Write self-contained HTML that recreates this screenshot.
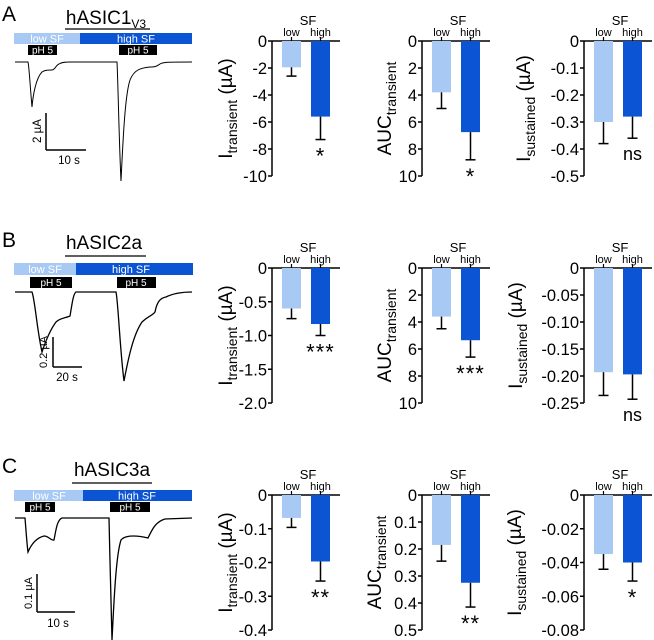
<!DOCTYPE html>
<html><head><meta charset="utf-8">
<style>
html,body{margin:0;padding:0;background:#fff;}
svg{display:block;font-family:"Liberation Sans","DejaVu Sans",sans-serif;}
</style></head>
<body>
<svg id="fig" width="654" height="640" viewBox="0 0 654 640">
<text x="2" y="21" font-size="21">A</text>
<text x="2" y="247" font-size="21">B</text>
<text x="2" y="473" font-size="21">C</text>

<g>
<text x="106" y="24" font-size="19" text-anchor="middle">hASIC1<tspan font-size="12" dy="4">V3</tspan></text>
<line x1="65" y1="29" x2="150" y2="29" stroke="#000" stroke-width="1.2"/>
<rect x="14" y="33" width="66" height="11" fill="#a9c9f5"/>
<rect x="80" y="33" width="112" height="11" fill="#0b55d4"/>
<text x="47" y="42.5" font-size="11" fill="#fff" text-anchor="middle">low SF</text>
<text x="136" y="42.5" font-size="11" fill="#fff" text-anchor="middle">high SF</text>
<rect x="28" y="45" width="29" height="10" fill="#000"/>
<rect x="119" y="45" width="38" height="10" fill="#000"/>
<text x="42.5" y="53.5" font-size="10" fill="#fff" text-anchor="middle">pH 5</text>
<text x="138" y="53.5" font-size="10" fill="#fff" text-anchor="middle">pH 5</text>
<path d="M15,62 L28,62 C29,65 30,85 32,107 C33,95 36,78 42,72 C45,70 48,70 52,70 C55,70 56,65 59,64 C62,62 66,62 70,62 L117,62 C118,80 119,140 121,181 C123,140 125,95 130,80 C134,70 140,68 150,67 C156,67 157,66 160,64 C163,62 168,62 192,62" fill="none" stroke="#000" stroke-width="1"/>
<line x1="46" y1="113" x2="46" y2="150" stroke="#000" stroke-width="1.5"/>
<line x1="46" y1="150" x2="86" y2="150" stroke="#000" stroke-width="1.5"/>
<text x="41" y="131" font-size="11.5" text-anchor="middle" transform="rotate(-90 41 131)">2 µA</text>
<text x="69" y="164" font-size="11.5" text-anchor="middle">10 s</text>
</g>

<g>
<text x="104" y="249" font-size="19" text-anchor="middle">hASIC2a</text>
<line x1="65" y1="256" x2="146" y2="256" stroke="#000" stroke-width="1.2"/>
<rect x="14" y="263" width="62" height="12" fill="#a9c9f5"/>
<rect x="76" y="263" width="117" height="12" fill="#0b55d4"/>
<text x="45" y="273" font-size="11" fill="#fff" text-anchor="middle">low SF</text>
<text x="131" y="273" font-size="11" fill="#fff" text-anchor="middle">high SF</text>
<rect x="30" y="277" width="42" height="11" fill="#000"/>
<rect x="117" y="277" width="39" height="11" fill="#000"/>
<text x="51" y="286" font-size="10" fill="#fff" text-anchor="middle">pH 5</text>
<text x="136" y="286" font-size="10" fill="#fff" text-anchor="middle">pH 5</text>
<path d="M15,292 L32,292 C35,300 37,330 42,352 C46,340 50,330 56,322 C60,318 66,318 70,316 C72,305 73,294 76,292 L116,292 C118,300 120,350 124,381 C128,360 133,335 142,322 C148,316 152,316 155,312 C157,302 160,298 166,297 C172,294 180,292 192,292" fill="none" stroke="#000" stroke-width="1.3"/>
<line x1="53" y1="337" x2="53" y2="367" stroke="#000" stroke-width="1.5"/>
<line x1="53" y1="367" x2="82" y2="367" stroke="#000" stroke-width="1.5"/>
<text x="47" y="352" font-size="11" text-anchor="middle" transform="rotate(-90 47 352)">0.2 µA</text>
<text x="67" y="381" font-size="11.5" text-anchor="middle">20 s</text>
</g>

<g>
<text x="112" y="476" font-size="19" text-anchor="middle">hASIC3a</text>
<line x1="72" y1="483" x2="152" y2="483" stroke="#000" stroke-width="1.2"/>
<rect x="14" y="490" width="69" height="11" fill="#a9c9f5"/>
<rect x="83" y="490" width="109" height="11" fill="#0b55d4"/>
<text x="49" y="499.5" font-size="11" fill="#fff" text-anchor="middle">low SF</text>
<text x="137" y="499.5" font-size="11" fill="#fff" text-anchor="middle">high SF</text>
<rect x="25" y="502" width="30" height="10" fill="#000"/>
<rect x="110" y="502" width="40" height="10" fill="#000"/>
<text x="40" y="510.5" font-size="10" fill="#fff" text-anchor="middle">pH 5</text>
<text x="130" y="510.5" font-size="10" fill="#fff" text-anchor="middle">pH 5</text>
<path d="M15,518 L25,518 C26,530 27,545 28,552 C31,545 36,538 44,536 C49,536 51,541 54,540 C56,530 57,520 62,518 L109,518 C110,560 111,610 112,640 C114,600 116,555 121,540 C126,534 140,536 148,538 C152,530 155,522 165,519 L192,518" fill="none" stroke="#000" stroke-width="1.3"/>
<line x1="37" y1="574" x2="37" y2="612" stroke="#000" stroke-width="1.5"/>
<line x1="37" y1="612" x2="75" y2="612" stroke="#000" stroke-width="1.5"/>
<text x="32" y="593" font-size="11" text-anchor="middle" transform="rotate(-90 32 593)">0.1 µA</text>
<text x="58" y="627" font-size="11.5" text-anchor="middle">10 s</text>
</g>
<g id="charts"></g>
</svg>
<script>
const categories = ['low', 'high'];
const a1Values = [-1.95, -5.6];   const a1Errors = [-2.6, -7.3];
const a2Values = [3.8, 6.75];     const a2Errors = [5.0, 8.8];
const a3Values = [-0.30, -0.28];  const a3Errors = [-0.38, -0.36];
const b1Values = [-0.60, -0.83];  const b1Errors = [-0.75, -1.0];
const b2Values = [3.6, 5.35];     const b2Errors = [4.5, 6.6];
const b3Values = [-0.193, -0.197];const b3Errors = [-0.236, -0.243];
const c1Values = [-0.068, -0.197];const c1Errors = [-0.096, -0.255];
const c2Values = [0.185, 0.325];  const c2Errors = [0.245, 0.415];
const c3Values = [-0.035, -0.040];const c3Errors = [-0.044, -0.051];
const a1Ticks = ['0','-2','-4','-6','-8','-10'];
const a2Ticks = ['0','2','4','6','8','10'];
const a3Ticks = ['0','-0.1','-0.2','-0.3','-0.4','-0.5'];
const b1Ticks = ['0','-0.5','-1.0','-1.5','-2.0'];
const b2Ticks = ['0','2','4','6','8','10'];
const b3Ticks = ['0','-0.05','-0.10','-0.15','-0.20','-0.25'];
const c1Ticks = ['0','-0.1','-0.2','-0.3','-0.4'];
const c2Ticks = ['0','0.1','0.2','0.3','0.4','0.5'];
const c3Ticks = ['0','-0.02','-0.04','-0.06','-0.08'];
const a1Sig = '*', a2Sig = '*', a3Sig = 'ns';
const b1Sig = '***', b2Sig = '***', b3Sig = 'ns';
const c1Sig = '**', c2Sig = '**', c3Sig = '*';

const NS = 'http://www.w3.org/2000/svg';
const root = document.getElementById('charts');
function mk(tag, attrs, parent) {
  const e = document.createElementNS(NS, tag);
  for (const k in attrs) e.setAttribute(k, attrs[k]);
  parent.appendChild(e);
  return e;
}
function chart(id, ax, y0, y1, ticks, values, errors, sig, titleMain, titleSub, titleUnit, titleX) {
  const g = mk('g', {}, root);
  
  
  const tmax = parseFloat(ticks[ticks.length - 1]);
  const y = v => y0 + (v / tmax) * (y1 - y0);
  mk('line', {x1: ax, y1: y0, x2: ax, y2: y1, stroke: '#000', 'stroke-width': 1.5}, g);
  mk('line', {x1: ax, y1: y0, x2: ax + 68, y2: y0, stroke: '#000', 'stroke-width': 1.5}, g);
  ticks.forEach(t => {
    const ty = y(parseFloat(t));
    mk('line', {x1: ax - 4, y1: ty, x2: ax, y2: ty, stroke: '#000', 'stroke-width': 1.5}, g);
    const tx = mk('text', {x: ax - 5, y: ty + 6, 'font-size': 16.5, 'text-anchor': 'end'}, g);
    tx.textContent = t;
    
    
  });
  const colors = ['#a9c9f5', '#0b55d4'];
  const bx = [ax + 10, ax + 39];
  const bw = 19;
  categories.forEach((c, i) => {
    const top = y0, bot = y(values[i]);
    const r = mk('rect', {x: bx[i], y: top, width: bw, height: bot - top, fill: colors[i]}, g);
    
    
    const cx = bx[i] + bw / 2, ey = y(errors[i]);
    const el = mk('line', {x1: cx, y1: bot, x2: cx, y2: ey, stroke: '#000', 'stroke-width': 1.5}, g);
    
    
    mk('line', {x1: cx - 5, y1: ey, x2: cx + 5, y2: ey, stroke: '#000', 'stroke-width': 1.5}, g);
    mk('line', {x1: cx, y1: y0 - 4, x2: cx, y2: y0, stroke: '#000', 'stroke-width': 1.2}, g);
    const lt = mk('text', {x: cx, y: y0 - 5, 'font-size': 11, 'text-anchor': 'middle'}, g);
    lt.textContent = c;
    
    
  });
  const sf = mk('text', {x: ax + 36, y: y0 - 16, 'font-size': 13, 'text-anchor': 'middle'}, g);
  sf.textContent = 'SF';
  
  
  const hx = bx[1] + bw / 2;
  const sy = y(errors[1]);
  const st = mk('text', {x: hx, y: sig === 'ns' ? sy + 22 : sy + 24, 'font-size': sig === 'ns' ? 18 : 22, 'text-anchor': 'middle', 'letter-spacing': sig === 'ns' ? 0 : 1}, g);
  st.textContent = sig;
  
  
  const my = (y0 + y1) / 2;
  const tt = mk('text', {x: titleX, y: my, 'font-size': 19, 'text-anchor': 'middle', transform: 'rotate(-90 ' + titleX + ' ' + my + ')'}, g);
  
  
  const s1 = mk('tspan', {}, tt); s1.textContent = titleMain;
  const s2 = mk('tspan', {'font-size': 14, dy: 5}, tt); s2.textContent = titleSub;
  if (titleUnit) { const s3 = mk('tspan', {dy: -5}, tt); s3.textContent = ' (µA)'; }
}
const yA = [41, 176], yB = [268, 403], yC = [495, 630];
const axX = [272, 422, 584];
chart('chart-a-itransient', axX[0], yA[0], yA[1], a1Ticks, a1Values, a1Errors, a1Sig, 'I', 'transient', true, 232);
chart('chart-a-auc', axX[1], yA[0], yA[1], a2Ticks, a2Values, a2Errors, a2Sig, 'AUC', 'transient', false, 391);
chart('chart-a-isustained', axX[2], yA[0], yA[1], a3Ticks, a3Values, a3Errors, a3Sig, 'I', 'sustained', true, 530);
chart('chart-b-itransient', axX[0], yB[0], yB[1], b1Ticks, b1Values, b1Errors, b1Sig, 'I', 'transient', true, 232);
chart('chart-b-auc', axX[1], yB[0], yB[1], b2Ticks, b2Values, b2Errors, b2Sig, 'AUC', 'transient', false, 391);
chart('chart-b-isustained', axX[2], yB[0], yB[1], b3Ticks, b3Values, b3Errors, b3Sig, 'I', 'sustained', true, 522);
chart('chart-c-itransient', axX[0], yC[0], yC[1], c1Ticks, c1Values, c1Errors, c1Sig, 'I', 'transient', true, 232);
chart('chart-c-auc', axX[1], yC[0], yC[1], c2Ticks, c2Values, c2Errors, c2Sig, 'AUC', 'transient', false, 381);
chart('chart-c-isustained', axX[2], yC[0], yC[1], c3Ticks, c3Values, c3Errors, c3Sig, 'I', 'sustained', true, 521);
</script>
</body></html>
